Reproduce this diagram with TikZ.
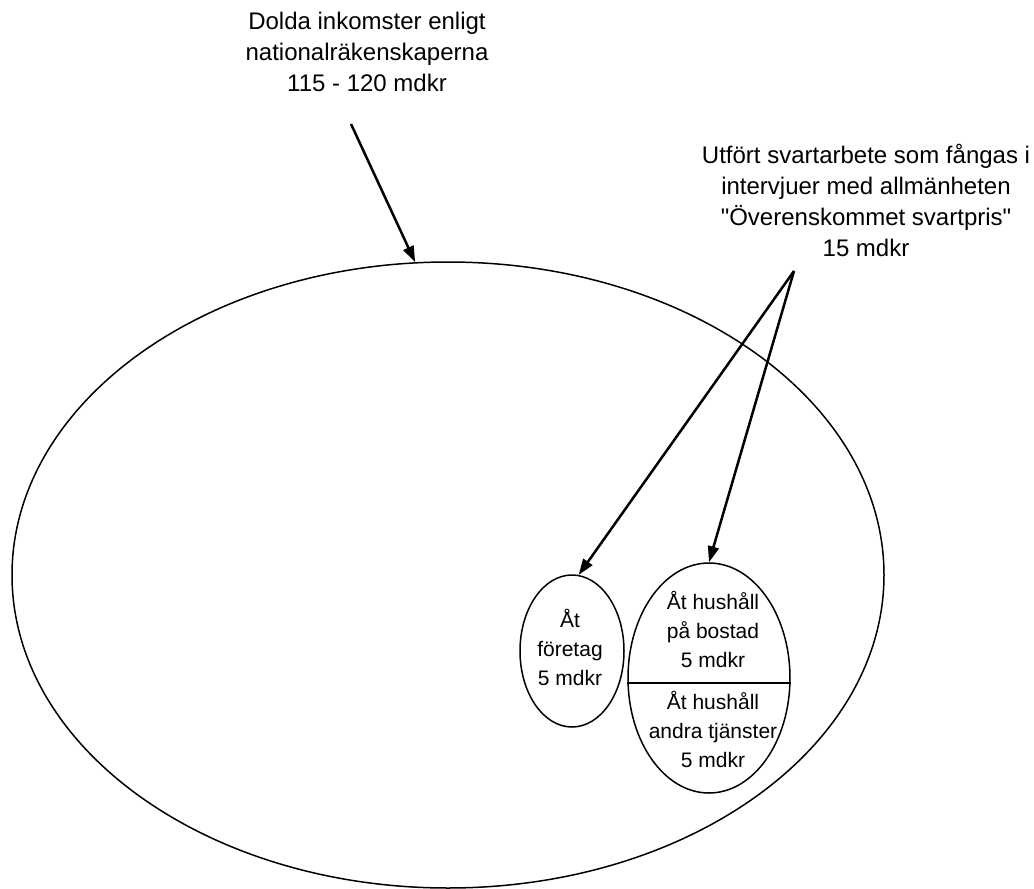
\documentclass[tikz,border=0pt]{standalone}
\usepackage{fontspec}
\setmainfont{Liberation Sans}[Ligatures=TeXOff]
\usetikzlibrary{arrows.meta,shapes.geometric}

\begin{document}
\begin{tikzpicture}[
  x=1pt, y=-1pt,
  >={Triangle[length=16pt,width=11pt]},
  every node/.style={font=\fontsize{24}{31}\selectfont},
  oval/.style={ellipse, draw, line width=1.5pt, inner sep=0pt},
  lbl/.style={align=center, inner sep=0pt},
  inlbl/.style={align=center, inner sep=0pt, font=\fontsize{21}{29}\selectfont},
  arr/.style={->, line width=2.5pt},
]
\useasboundingbox (0,0) rectangle (1034,889);

% Ellipses
\node[oval, minimum width=872pt, minimum height=626pt] (total) at (448,575) {};
\node[oval, minimum width=104pt, minimum height=152pt] (foretag) at (572,651) {};
\node[oval, minimum width=162pt, minimum height=230pt] (hushall) at (709,678) {};
\draw[line width=1.5pt] ([yshift=-5pt]hushall.west) -- ([yshift=-5pt]hushall.east);

% Texts in ellipses
\node[inlbl] (foretagtxt) at (570,647) {Åt\\företag\\5 mdkr};
\node[inlbl] (bostadtxt) at (713,629) {Åt hushåll\\på bostad\\5 mdkr};
\node[inlbl] (andratxt) at (713,729) {Åt hushåll\\andra tjänster\\5 mdkr};

% Labels
\node[lbl] (dolda) at (367,52) {Dolda inkomster enligt\\nationalräkenskaperna\\115 - 120 mdkr};
\node[lbl] (utfort) at (866,200) {Utfört svartarbete som fångas i\\intervjuer med allmänheten\\"Överenskommet svartpris"\\15 mdkr};

% Arrows
\coordinate (doldaend) at (351,124);
\coordinate (utfortend) at (794,271);
\draw[arr] (doldaend) -- (total.96);
\draw[arr] (utfortend) -- (foretag.85);
\draw[arr] (utfortend) -- (hushall.north);

\end{tikzpicture}
\end{document}
